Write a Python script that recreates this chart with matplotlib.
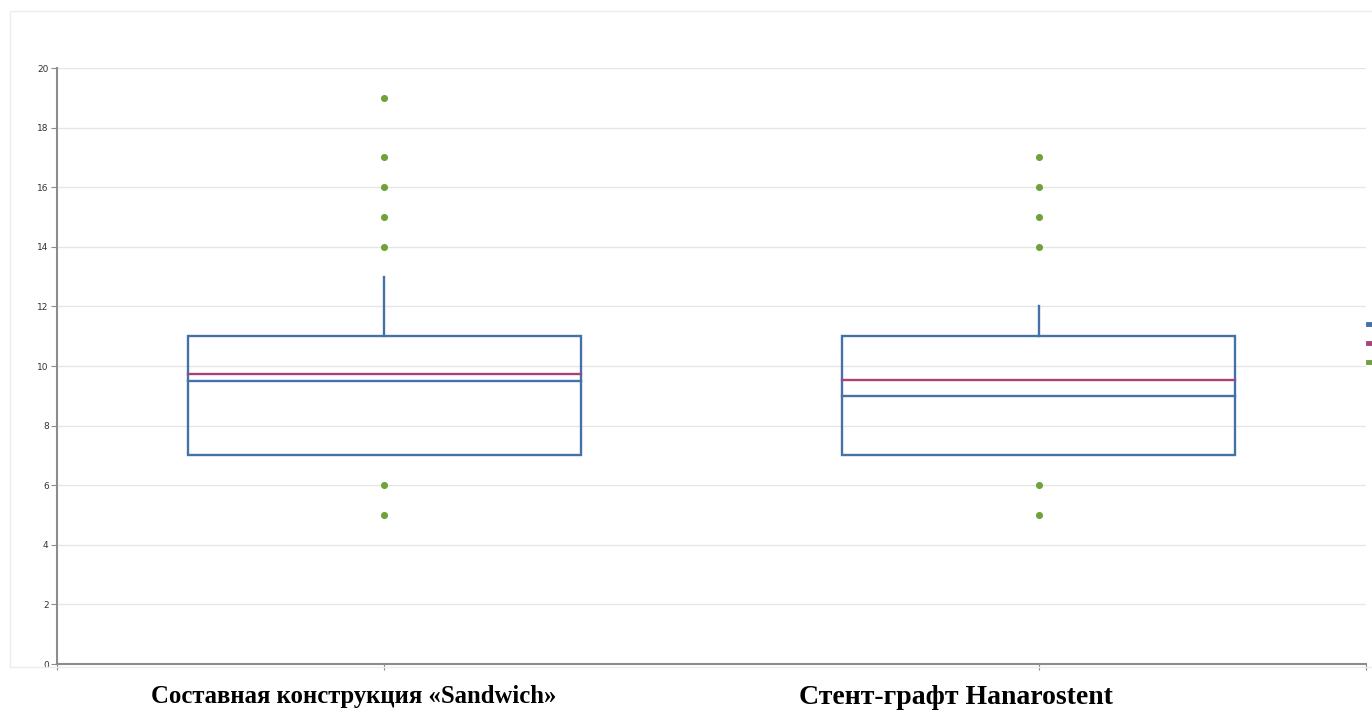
import numpy as np
import matplotlib.pyplot as plt
from matplotlib.patches import Rectangle
from matplotlib.lines import Line2D

# данные
groups = ["Составная конструкция «Sandwich»", "Стент-графт Hanarostent"]
q1 = [7, 7]
q3 = [11, 11]
medians = [9.5, 9.0]
means = [9.73, 9.53]
whisk_lo = [7, 7]
whisk_hi = [13, 12]
outliers = [[19, 17, 16, 15, 14, 6, 5], [17, 16, 15, 14, 6, 5]]
y_ticks = [0, 2, 4, 6, 8, 10, 12, 14, 16, 18, 20]

blue = "#4472a8"
purple = "#a8437a"
green = "#6fa23a"
grey = "#8c8c8c"

W, H = 1372, 711
fig = plt.figure(figsize=(W / 100, H / 100), dpi=100)

# светлая рамка вокруг области графика
fig.patches.append(Rectangle((10 / W, 1 - 667 / H), 1.0, (667 - 11) / H,
                             transform=fig.transFigure, fill=False,
                             edgecolor="#ececec", linewidth=1))

ax = fig.add_axes([57 / W, 1 - 664 / H, (1366 - 57) / W, (664 - 68) / H])
ax.set_xlim(-0.5, 1.5)
ax.set_ylim(0, 20)

lw = 1.7
box_w = 0.6
for i in range(len(groups)):
    ax.add_patch(Rectangle((i - box_w / 2, q1[i]), box_w, q3[i] - q1[i],
                           fill=False, edgecolor=blue, linewidth=lw, zorder=3))
    ax.plot([i - box_w / 2, i + box_w / 2], [medians[i], medians[i]],
            color=blue, linewidth=lw, zorder=3)
    ax.plot([i - box_w / 2, i + box_w / 2], [means[i], means[i]],
            color=purple, linewidth=lw, zorder=4)
    ax.plot([i, i], [q3[i], whisk_hi[i]], color=blue, linewidth=lw, zorder=3)
    ax.plot([i, i], [whisk_lo[i], q1[i]], color=blue, linewidth=lw, zorder=3)
    ax.scatter([i] * len(outliers[i]), outliers[i], s=26, color=green,
               zorder=5, linewidths=0)

ax.set_yticks(y_ticks)
ax.set_yticklabels([str(t) for t in y_ticks])
ax.set_xticks([-0.5, 0, 1, 1.5])
ax.set_xticklabels([])
ax.grid(axis="y", color="#e6e6e6", linewidth=1)
ax.set_axisbelow(True)
ax.tick_params(axis="y", labelsize=6.5, length=4, color=grey, labelcolor="#333333", pad=2)
ax.tick_params(axis="x", length=4, color=grey)

for side in ["top", "right"]:
    ax.spines[side].set_visible(False)
for side in ["left", "bottom"]:
    ax.spines[side].set_color(grey)
    ax.spines[side].set_linewidth(1.5)

# подписи категорий
x_pos = [354, 956]
sizes = [17.8, 20]
for x, name, fs in zip(x_pos, groups, sizes):
    fig.text(x / W, 1 - 697 / H, name, ha="center", va="center",
             fontsize=fs, fontweight="bold", family="Liberation Serif")

# обрезанная легенда у правого края
for y, c in zip([324, 343, 362], [blue, purple, green]):
    fig.add_artist(Line2D([1368 / W, 1.0], [1 - y / H, 1 - y / H],
                          transform=fig.transFigure, color=c, linewidth=3.5))

fig.savefig("out.png", dpi=100, facecolor="white")
